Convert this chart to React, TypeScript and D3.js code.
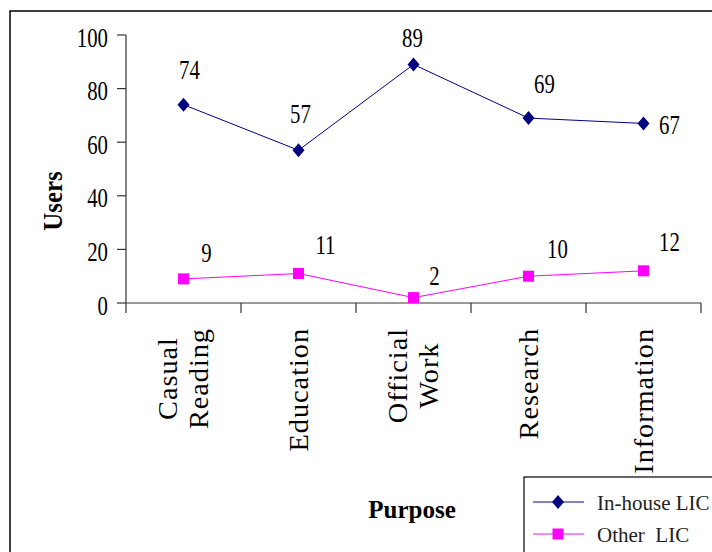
import React, { useEffect, useRef } from "react";
import * as d3 from "d3";

// Chart data
const categories = ["Casual Reading", "Education", "Official Work", "Research", "Information"];
const inHouse = [74, 57, 89, 69, 67];
const other = [9, 11, 2, 10, 12];
const yTicks = [0, 20, 40, 60, 80, 100];
const seriesNames = ["In-house LIC", "Other  LIC"];

// Value-label placement relative to each point (dx, dy to baseline)
const inHouseLabelOffsets: [number, number][] = [[6, -26], [2, -27], [-1, -17], [16, -25], [26, 11]];
const otherLabelOffsets: [number, number][] = [[23, -17], [27, -20], [21, -13], [29, -18], [26, -20]];

const W = 712;
const H = 552;
const NUM_FONT = "'Liberation Serif', 'Times New Roman', serif";

export default function App() {
  const ref = useRef<SVGSVGElement>(null);

  useEffect(() => {
    const svg = d3.select(ref.current);
    svg.selectAll("*").remove();

    const left = 126, right = 701, top = 35, bottom = 303;
    const x = d3.scaleBand<string>().domain(categories).range([left, right]);
    const y = d3.scaleLinear().domain([0, 100]).range([bottom, top]);
    const cx = (c: string) => (x(c) as number) + x.bandwidth() / 2;

    // Outer frame
    svg.append("rect")
      .attr("x", 10).attr("y", 11).attr("width", 760).attr("height", 600)
      .attr("fill", "white").attr("stroke", "#000").attr("stroke-width", 1.5);

    const axisColor = "#333";
    // Y axis
    svg.append("line").attr("x1", left).attr("x2", left).attr("y1", top).attr("y2", bottom + 10)
      .attr("stroke", axisColor).attr("stroke-width", 1.2);
    yTicks.forEach((t) => {
      svg.append("line").attr("x1", left - 9).attr("x2", left).attr("y1", y(t)).attr("y2", y(t))
        .attr("stroke", axisColor).attr("stroke-width", 1.2);
      svg.append("text")
        .attr("transform", `translate(108,${y(t) + 11.5}) scale(0.77,1)`)
        .attr("text-anchor", "end")
        .attr("font-family", NUM_FONT).attr("font-size", 27).attr("fill", "#000")
        .text(String(t));
    });

    // X axis
    svg.append("line").attr("x1", left).attr("x2", right).attr("y1", bottom).attr("y2", bottom)
      .attr("stroke", axisColor).attr("stroke-width", 1.2);
    categories.forEach((c) => {
      const xe = (x(c) as number) + x.bandwidth();
      svg.append("line").attr("x1", xe).attr("x2", xe).attr("y1", bottom).attr("y2", bottom + 10)
        .attr("stroke", axisColor).attr("stroke-width", 1.2);
    });

    // Legend box
    svg.append("rect").attr("x", 524).attr("y", 477).attr("width", 300).attr("height", 200)
      .attr("fill", "white").attr("stroke", "#000").attr("stroke-width", 1.2);

    // Category labels, rotated, end of the longest line aligned at the top
    const catFs = 27, catScale = 1.05, lh = 31;
    categories.forEach((c) => {
      const lines = c.split(" ");
      const g = svg.append("g").attr("transform", `translate(${cx(c)},328) rotate(-90) scale(${catScale},1)`);
      const texts = lines.map((ln) =>
        g.append("text")
          .attr("font-family", NUM_FONT).attr("font-size", catFs)
          .attr("letter-spacing", 0.9).attr("text-anchor", "middle").attr("fill", "#000")
          .text(ln)
      );
      const maxLen = d3.max(texts, (t) => (t.node() as SVGTextElement).getComputedTextLength()) || 0;
      texts.forEach((t, i) => {
        t.attr("x", -maxLen / 2).attr("y", (i - (lines.length - 1) / 2) * lh + 9);
      });
    });

    // Axis titles
    svg.append("text")
      .attr("transform", `translate(62,201) rotate(-90) scale(0.92,1)`)
      .attr("text-anchor", "middle").attr("font-family", NUM_FONT).attr("font-weight", "bold")
      .attr("font-size", 27).attr("fill", "#000").text("Users");
    svg.append("text")
      .attr("x", 412).attr("y", 518).attr("text-anchor", "middle")
      .attr("font-family", NUM_FONT).attr("font-weight", "bold")
      .attr("font-size", 25).attr("fill", "#000").text("Purpose");

    const line = d3.line<number>().x((_, i) => cx(categories[i])).y((v) => y(v));

    const diamond = (px: number, py: number) =>
      `M${px},${py - 7}L${px + 6},${py}L${px},${py + 7}L${px - 6},${py}Z`;

    // In-house series
    svg.append("path").attr("d", line(inHouse)).attr("fill", "none")
      .attr("stroke", "#000080").attr("stroke-width", 1);
    inHouse.forEach((v, i) => {
      svg.append("path").attr("d", diamond(cx(categories[i]), y(v))).attr("fill", "#000080");
    });

    // Other series
    svg.append("path").attr("d", line(other)).attr("fill", "none")
      .attr("stroke", "#FF00FF").attr("stroke-width", 1);
    other.forEach((v, i) => {
      svg.append("rect").attr("x", cx(categories[i]) - 5.5).attr("y", y(v) - 5.5)
        .attr("width", 11).attr("height", 11).attr("fill", "#FF00FF");
    });

    // Value labels
    const addLabels = (vals: number[], offs: [number, number][]) => {
      vals.forEach((v, i) => {
        const px = cx(categories[i]) + offs[i][0];
        const py = y(v) + offs[i][1];
        svg.append("text")
          .attr("transform", `translate(${px},${py}) scale(0.77,1)`)
          .attr("text-anchor", "middle").attr("font-family", NUM_FONT)
          .attr("font-size", 27).attr("fill", "#000").text(String(v));
      });
    };
    addLabels(inHouse, inHouseLabelOffsets);
    addLabels(other, otherLabelOffsets);

    // Legend entries
    const legendRows = [502, 534];
    seriesNames.forEach((name, i) => {
      const ly = legendRows[i];
      const color = i === 0 ? "#000080" : "#FF00FF";
      svg.append("line").attr("x1", 533).attr("x2", 584).attr("y1", ly).attr("y2", ly)
        .attr("stroke", i === 0 ? "#5a5aaa" : "#ee66ee").attr("stroke-width", 1.5);
      if (i === 0) svg.append("path").attr("d", diamond(558, ly)).attr("fill", color);
      else svg.append("rect").attr("x", 552.5).attr("y", ly - 5.5).attr("width", 11).attr("height", 11).attr("fill", color);
      svg.append("text").attr("x", 597).attr("y", ly + 7.5)
        .attr("font-family", NUM_FONT).attr("font-size", 21).attr("fill", "#222")
        .style("white-space", "pre").text(name);
    });
  }, []);

  return (
    <svg ref={ref} width={W} height={H}
      style={{ position: "absolute", left: 0, top: 0, background: "white" }} />
  );
}
